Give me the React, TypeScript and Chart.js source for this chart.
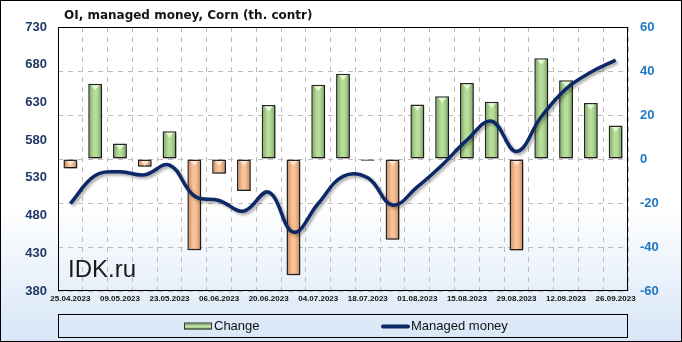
import React, { useEffect, useRef } from 'react';
import { Chart, registerables } from 'chart.js';

Chart.register(...registerables);

const TITLE = 'OI, managed money, Corn (th. contr)';
const WATERMARK = 'IDK.ru';

const dates = [
  '25.04.2023', '02.05.2023', '09.05.2023', '16.05.2023', '23.05.2023', '30.05.2023',
  '06.06.2023', '13.06.2023', '20.06.2023', '27.06.2023', '04.07.2023', '11.07.2023',
  '18.07.2023', '25.07.2023', '01.08.2023', '08.08.2023', '15.08.2023', '22.08.2023',
  '29.08.2023', '05.09.2023', '12.09.2023', '19.09.2023', '26.09.2023',
];

const change = [
  -4.3, 34.2, 7, -3.5, 12.6, -41.5, -6.7, -14.6, 24.5, -52.8, 33.7, 38.7,
  -0.8, -36.7, 24.8, 28.5, 34.6, 26, -41.6, 45.8, 35.8, 25.4, 15.2,
];

const managedMoney = [
  496, 533, 538, 534, 547, 506, 500, 486, 511, 458, 496, 532,
  530, 494, 518, 547, 580, 605, 565, 611, 648, 670, 686,
];

const leftAxis = { min: 380, max: 730, step: 50 };
const rightAxis = { min: -60, max: 60, step: 20 };

const FONT = '"Liberation Sans", Arial, sans-serif';
const TITLE_FONT = '"DejaVu Sans", Verdana, sans-serif';

function barFill(c: any) {
  const v = c.raw as number;
  const pos = v >= 0;
  const edge = pos ? '#74a05a' : '#c98459';
  const mid = pos ? '#b6de9a' : '#f8c197';
  const chart = c.chart;
  const xs = chart && chart.scales && chart.scales.x;
  if (!xs || c.type !== 'data' || typeof c.dataIndex !== 'number') return mid;
  const cx = xs.getPixelForValue(c.dataIndex);
  if (!Number.isFinite(cx)) return mid;
  const half = 7;
  const g = chart.ctx.createLinearGradient(cx - half, 0, cx + half, 0);
  g.addColorStop(0, edge);
  g.addColorStop(0.4, mid);
  g.addColorStop(0.6, mid);
  g.addColorStop(1, edge);
  return g;
}

const decor = {
  id: 'decor',
  beforeDatasetsDraw(chart: any) {
    const { ctx, chartArea } = chart;
    ctx.save();
    ctx.font = `24px ${FONT}`;
    ctx.fillStyle = '#1a1a1a';
    ctx.textBaseline = 'alphabetic';
    ctx.textAlign = 'left';
    ctx.fillText(WATERMARK, chartArea.left + 10, chartArea.bottom - 14);
    ctx.restore();
  },
  beforeDatasetDraw(chart: any) {
    const ctx = chart.ctx;
    ctx.save();
    ctx.shadowColor = 'rgba(0,0,0,0.35)';
    ctx.shadowOffsetX = 2;
    ctx.shadowOffsetY = 2;
    ctx.shadowBlur = 3;
  },
  afterDatasetDraw(chart: any, args: any) {
    const ctx = chart.ctx;
    ctx.restore();
    if (args.meta.type === 'bar') {
      ctx.save();
      args.meta.data.forEach((el: any, i: number) => {
        const v = change[i];
        if (Math.abs(v) < 2) return;
        const top = Math.min(el.y, el.base) + 1.5;
        const hw = el.width / 2 - 3;
        ctx.beginPath();
        ctx.moveTo(el.x - hw, top);
        ctx.lineTo(el.x + hw, top);
        ctx.lineTo(el.x, top + 5);
        ctx.closePath();
        ctx.fillStyle = v >= 0 ? '#e6f7d6' : '#fde3cf';
        ctx.fill();
      });
      ctx.restore();
    }
  },
  afterDraw(chart: any) {
    const { ctx, chartArea } = chart;
    ctx.save();
    ctx.strokeStyle = '#000';
    ctx.lineWidth = 1;
    const l = Math.round(chartArea.left) + 0.5;
    const t = Math.round(chartArea.top) + 0.5;
    const r = Math.round(chartArea.right) - 0.5;
    const b = Math.round(chartArea.bottom) - 0.5;
    ctx.strokeRect(l, t, r - l, b - t);
    ctx.font = `bold 12px ${TITLE_FONT}`;
    ctx.fillStyle = '#141414';
    ctx.textBaseline = 'middle';
    ctx.textAlign = 'left';
    ctx.fillText(TITLE, 63, 15);
    const lt = chart.height - 27 + 0.5;
    const lb = chart.height - 4 + 0.5;
    ctx.strokeRect(l, lt, r - l, lb - lt);
    const cy = (lt + lb) / 2 + 0.5;
    const ds = chart.data.datasets;
    const g = ctx.createLinearGradient(0, cy - 3, 0, cy + 3);
    g.addColorStop(0, '#74a05a');
    g.addColorStop(0.5, '#c9e8ae');
    g.addColorStop(1, '#74a05a');
    ctx.fillStyle = g;
    ctx.fillRect(183, cy - 3, 28, 6);
    ctx.strokeStyle = '#333';
    ctx.strokeRect(183.5, cy - 3.5, 27, 6);
    ctx.font = `13px ${FONT}`;
    ctx.fillStyle = '#111';
    ctx.fillText(ds[0].label, 213, cy);
    ctx.strokeStyle = '#0c2866';
    ctx.lineWidth = 4;
    ctx.lineCap = 'round';
    ctx.beginPath();
    ctx.moveTo(382, cy);
    ctx.lineTo(407, cy);
    ctx.stroke();
    ctx.fillText(ds[1].label, 410, cy);
    ctx.restore();
  },
};

export default function App() {
  const ref = useRef<HTMLCanvasElement>(null);
  useEffect(() => {
    if (!ref.current) return;
    const chart = new Chart(ref.current, {
      type: 'bar',
      data: {
        labels: dates,
        datasets: [
          {
            type: 'bar',
            label: 'Change',
            data: change,
            yAxisID: 'y1',
            order: 1,
            backgroundColor: barFill as any,
            borderColor: '#262626',
            borderWidth: 1.5,
            borderSkipped: false,
            barPercentage: 0.56,
            categoryPercentage: 1,
          },
          {
            type: 'line',
            label: 'Managed money',
            data: managedMoney,
            yAxisID: 'y',
            order: 0,
            borderColor: '#0c2866',
            borderWidth: 3.5,
            tension: 0.4,
            pointRadius: 0,
            fill: false,
          },
        ],
      },
      options: {
        animation: false,
        responsive: false,
        maintainAspectRatio: false,
        layout: { padding: { top: 26, bottom: 30, left: 0, right: 0 } },
        plugins: {
          legend: { display: false },
          title: { display: false },
          tooltip: { enabled: false },
        },
        scales: {
          x: {
            type: 'category',
            offset: true,
            grid: {
              offset: true,
              display: true,
              drawTicks: false,
              color: '#bdbdbd',
              lineWidth: 1,
            },
            border: { display: false, dash: [5, 5] },
            ticks: {
              autoSkip: false,
              maxRotation: 0,
              padding: 3,
              color: '#111',
              font: { family: FONT, size: 8, weight: 'bold' },
              callback: (_v: any, i: number) => (i % 2 === 0 ? dates[i] : ''),
            },
            afterFit: (s: any) => { s.height = 20; },
          },
          y: {
            position: 'left',
            min: leftAxis.min,
            max: leftAxis.max,
            grid: { display: false, drawTicks: false },
            border: { display: false },
            ticks: {
              stepSize: leftAxis.step,
              padding: 11,
              color: '#1f3864',
              font: { family: FONT, size: 13, weight: 'bold' },
            },
            afterFit: (s: any) => { s.width = 57; },
          },
          y1: {
            position: 'right',
            min: rightAxis.min,
            max: rightAxis.max,
            grid: { display: true, drawTicks: false, color: '#bdbdbd', lineWidth: 1 },
            border: { display: false, dash: [5, 5] },
            ticks: {
              stepSize: rightAxis.step,
              padding: 12,
              color: '#1f77c4',
              font: { family: FONT, size: 13, weight: 'bold' },
            },
            afterFit: (s: any) => { s.width = 53; },
          },
        },
      },
      plugins: [decor],
    } as any);
    return () => chart.destroy();
  }, []);
  return (
    <div
      style={{
        position: 'fixed',
        left: 0,
        top: 0,
        width: 682,
        height: 342,
        boxSizing: 'border-box',
        border: '1px solid #000',
        background: 'linear-gradient(to bottom, #ffffff 0%, #ffffff 60%, #d8e6f7 100%)',
      }}
    >
      <canvas ref={ref} width={680} height={340} style={{ display: 'block', width: 680, height: 340 }} />
    </div>
  );
}
